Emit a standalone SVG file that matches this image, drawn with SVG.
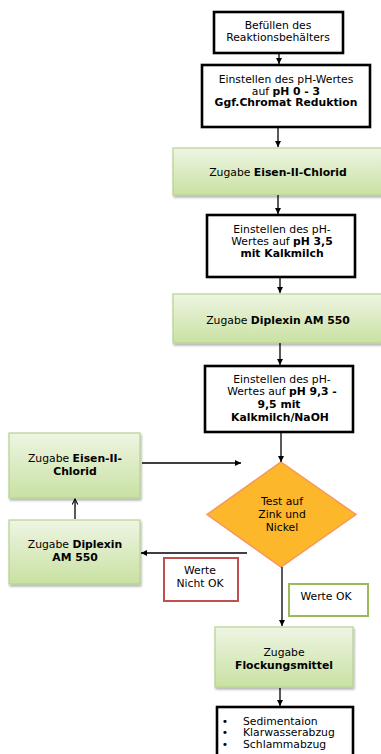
<svg xmlns="http://www.w3.org/2000/svg" width="381" height="754" viewBox="0 0 381 754">
<defs>
<linearGradient id="g" x1="0" y1="0" x2="0" y2="1">
<stop offset="0" stop-color="#eef5e3"/>
<stop offset="1" stop-color="#c9e1a2"/>
</linearGradient>
<filter id="sh" x="-10%" y="-10%" width="130%" height="140%">
<feDropShadow dx="1" dy="2" stdDeviation="1" flood-color="#000" flood-opacity="0.3"/>
</filter>
<marker id="ah" viewBox="0 0 10 10" refX="10" refY="5" markerWidth="6" markerHeight="6" orient="auto" markerUnits="userSpaceOnUse">
<path d="M0,0 L10,5 L0,10 z" fill="#000"/>
</marker>
<marker id="ao" viewBox="0 0 10 10" refX="9" refY="5" markerWidth="7" markerHeight="7" orient="auto" markerUnits="userSpaceOnUse">
<path d="M1,1 L9,5 L1,9" fill="none" stroke="#000" stroke-width="1.5"/>
</marker>
<style>
text{font-family:"DejaVu Sans",Verdana,sans-serif;font-size:10.8px;fill:#000;text-anchor:middle}
.b{font-weight:bold}
.wb{fill:#fff;stroke:#000;stroke-width:2.6}
.gb{fill:url(#g);stroke:#b6d391;stroke-width:1.2;filter:url(#sh)}
.c{stroke:#000;stroke-width:1.3;fill:none}
.l{text-anchor:start}
</style>
</defs>

<g id="n1"><rect class="wb" x="214" y="12" width="129" height="41"/>
<text x="278" y="29">Befüllen des</text><text x="278" y="41">Reaktionsbehälters</text></g>

<g id="n2"><rect class="wb" x="202" y="65" width="168" height="62"/>
<text x="286" y="83">Einstellen des pH-Wertes</text>
<text x="286" y="94.5">auf <tspan class="b">pH 0 - 3</tspan></text>
<text x="286" y="106" class="b">Ggf.Chromat Reduktion</text></g>

<g id="n3"><rect class="gb" x="173" y="148" width="212" height="47"/>
<text x="278" y="175.5">Zugabe <tspan class="b">Eisen-II-Chlorid</tspan></text></g>

<g id="n4"><rect class="wb" x="207" y="215" width="148" height="62"/>
<text x="282" y="232.5">Einstellen des pH-</text>
<text x="282" y="244.5">Wertes auf <tspan class="b">pH 3,5</tspan></text>
<text x="282" y="256.5" class="b">mit Kalkmilch</text></g>

<g id="n5"><rect class="gb" x="173" y="294" width="212" height="49"/>
<text x="278" y="323.5">Zugabe <tspan class="b">Diplexin AM 550</tspan></text></g>

<g id="n6"><rect class="wb" x="205" y="366" width="148" height="66"/>
<text x="282" y="382.5">Einstellen des pH-</text>
<text x="282" y="394.5">Wertes auf <tspan class="b">pH 9,3 -</tspan></text>
<text x="279" y="407.5" class="b">9,5 mit</text>
<text x="280" y="420.5" class="b">Kalkmilch/NaOH</text></g>

<g id="n7"><polygon points="281,462 356,514.5 281,567 207,514.5" fill="#fcb72b" stroke="#f7975e" stroke-width="1.5"/>
<text x="282" y="504.5">Test auf</text><text x="282" y="517.5">Zink und</text><text x="282" y="530.5">Nickel</text></g>

<g id="n8"><rect class="gb" x="9" y="433" width="131" height="65"/>
<text x="75" y="461.5">Zugabe <tspan class="b">Eisen-II-</tspan></text>
<text x="75" y="474.5" class="b">Chlorid</text></g>

<g id="n9"><rect class="gb" x="9" y="520" width="131" height="64"/>
<text x="75" y="547.5">Zugabe <tspan class="b">Diplexin</tspan></text>
<text x="75" y="560.5" class="b">AM 550</text></g>

<g id="n10"><rect x="164" y="558" width="74" height="43" fill="#fff" stroke="#c0504d" stroke-width="2"/>
<text x="200" y="573.5">Werte</text><text x="200" y="586.5">Nicht OK</text></g>

<g id="n11"><rect x="289" y="584" width="79" height="32" fill="#fff" stroke="#9bbb59" stroke-width="2"/>
<text x="326" y="600">Werte OK</text></g>

<g id="n12"><rect class="gb" x="215" y="627" width="138" height="60"/>
<text x="284" y="655.5">Zugabe</text>
<text x="284" y="668.5" class="b">Flockungsmittel</text></g>

<g id="n13"><rect class="wb" x="217" y="707" width="136" height="60"/>
<text x="225" y="724.5">•</text><text x="225" y="736">•</text><text x="225" y="747.5">•</text>
<text class="l" x="243" y="724.5">Sedimentaion</text>
<text class="l" x="243" y="736">Klarwasserabzug</text>
<text class="l" x="243" y="747.5">Schlammabzug</text></g>

<g id="connectors">
<line class="c" x1="279" y1="54" x2="279" y2="64" marker-end="url(#ah)"/>
<line class="c" x1="278" y1="128" x2="278" y2="147" marker-end="url(#ah)"/>
<line class="c" x1="278" y1="195" x2="278" y2="214" marker-end="url(#ah)"/>
<line class="c" x1="280" y1="278" x2="280" y2="293" marker-end="url(#ah)"/>
<line class="c" x1="280" y1="343" x2="280" y2="365" marker-end="url(#ah)"/>
<line class="c" x1="281" y1="433" x2="281" y2="462" marker-end="url(#ah)"/>
<line class="c" x1="282" y1="567" x2="282" y2="626" marker-end="url(#ah)"/>
<line class="c" x1="280" y1="688" x2="280" y2="706" marker-end="url(#ah)"/>
<line class="c" x1="142" y1="463" x2="241" y2="463" marker-end="url(#ah)"/>
<line class="c" x1="247" y1="553" x2="141" y2="553" marker-end="url(#ah)"/>
<line class="c" x1="75" y1="519" x2="75" y2="499" marker-end="url(#ao)"/>
</g>
</svg>
